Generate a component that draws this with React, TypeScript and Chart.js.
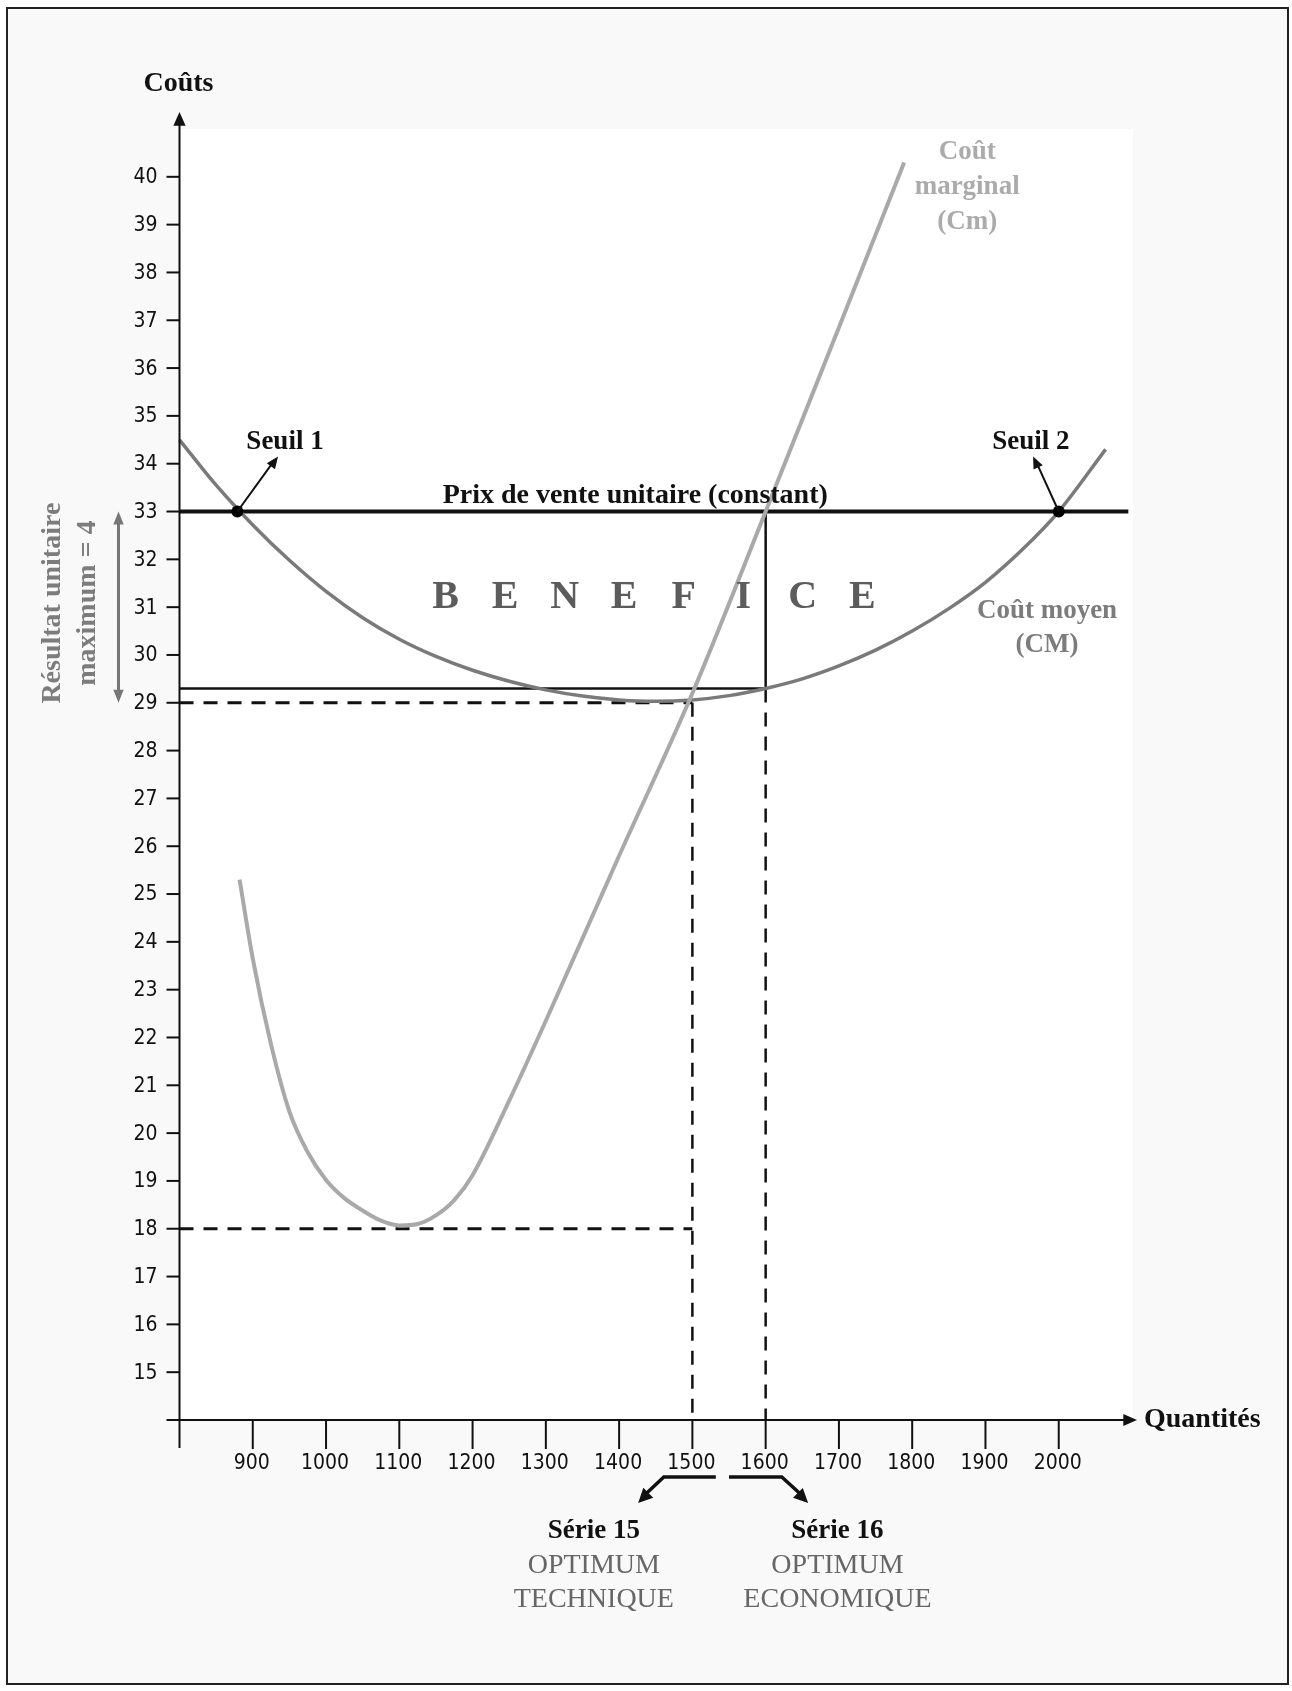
import { useEffect, useRef } from "react";
import { Chart, registerables } from "chart.js";

Chart.register(...registerables);

// ---------- data ----------
// Coût moyen (CM)
const cmQty = [800, 850, 900, 950, 1000, 1050, 1100, 1150, 1200, 1250, 1300, 1350, 1400, 1450, 1500, 1550, 1600, 1650, 1700, 1750, 1800, 1850, 1900, 1950, 2000, 2064];
const cmCost = [34.5, 33.55, 32.72, 31.98, 31.33, 30.78, 30.33, 29.97, 29.68, 29.45, 29.27, 29.14, 29.06, 29.03, 29.06, 29.15, 29.3, 29.5, 29.77, 30.1, 30.5, 30.97, 31.52, 32.2, 33.0, 34.3];
// Coût marginal (Cm)
const cmgQty = [882, 900, 925, 950, 975, 1000, 1025, 1050, 1075, 1100, 1125, 1150, 1175, 1200, 1250, 1300, 1400, 1500, 1600, 1700, 1789];
const cmgCost = [25.3, 23.65, 21.85, 20.45, 19.6, 19.02, 18.64, 18.38, 18.17, 18.07, 18.1, 18.28, 18.6, 19.12, 20.68, 22.35, 25.8, 29.2, 33.0, 36.85, 40.3];
// Prix de vente unitaire
const prixVente = 33;
const prixQty = [800, 2095];
// seuils de rentabilité
const seuilQty = [879, 2000];
// optimum technique / économique
const optTechnique = 1500;
const optEconomique = 1600;
const cmMinimum = 29;
const cmAtOptEco = 29.3;
const cmgMinimum = 18;
// axes
const xRange = [800, 2100];
const yRange = [14, 41];
const xTickValues = [900, 1000, 1100, 1200, 1300, 1400, 1500, 1600, 1700, 1800, 1900, 2000];
const yTickValues = [15, 16, 17, 18, 19, 20, 21, 22, 23, 24, 25, 26, 27, 28, 29, 30, 31, 32, 33, 34, 35, 36, 37, 38, 39, 40];
const beneficeLetters = ["B", "E", "N", "E", "F", "I", "C", "E"];

const W = 1292;
const H = 1691;
const SERIF = '"Liberation Serif", "Times New Roman", "DejaVu Serif", serif';
const NARROW = '"Liberation Sans Narrow", "DejaVu Sans Condensed", "Liberation Sans", sans-serif';

const pts = (xs: number[], ys: number[]) => xs.map((x, i) => ({ x, y: ys[i] }));

function arrowHead(ctx: CanvasRenderingContext2D, x1: number, y1: number, x2: number, y2: number, size: number, spread = 0.45) {
  const a = Math.atan2(y2 - y1, x2 - x1);
  ctx.beginPath();
  ctx.moveTo(x2, y2);
  ctx.lineTo(x2 - size * Math.cos(a - spread), y2 - size * Math.sin(a - spread));
  ctx.lineTo(x2 - size * Math.cos(a + spread), y2 - size * Math.sin(a + spread));
  ctx.closePath();
  ctx.fill();
}

const decorPlugin = {
  id: "decor",
  beforeDraw(chart: any) {
    const ctx: CanvasRenderingContext2D = chart.ctx;
    const { left, top, right, bottom } = chart.chartArea;
    ctx.save();
    ctx.fillStyle = "#ffffff";
    ctx.fillRect(0, 0, W, H);
    ctx.fillStyle = "#f9f9f9";
    ctx.fillRect(7, 8, 1281, 1676);
    ctx.strokeStyle = "#222";
    ctx.lineWidth = 2;
    ctx.strokeRect(7, 8, 1281, 1676);
    ctx.fillStyle = "#ffffff";
    ctx.fillRect(left, top, right - left + 1, bottom - top);
    ctx.restore();
  },
  afterDraw(chart: any) {
    const ctx: CanvasRenderingContext2D = chart.ctx;
    const xs = chart.scales.x;
    const ys = chart.scales.y;
    const { left, top, right, bottom } = chart.chartArea;
    const X = (v: number) => xs.getPixelForValue(v);
    const Y = (v: number) => ys.getPixelForValue(v);
    ctx.save();

    // ---- axes ----
    ctx.strokeStyle = "#111";
    ctx.fillStyle = "#111";
    ctx.lineWidth = 2;
    ctx.beginPath();
    ctx.moveTo(left, bottom + 28);
    ctx.lineTo(left, top - 4);
    ctx.moveTo(left - 13, bottom);
    ctx.lineTo(right - 6, bottom);
    ctx.stroke();
    arrowHead(ctx, left, top, left, top - 17, 15, 0.42);
    arrowHead(ctx, right - 10, bottom, right + 5, bottom, 15, 0.42);

    // y ticks
    ctx.lineWidth = 2;
    ctx.font = `21px ${NARROW}`;
    ctx.textAlign = "right";
    ctx.textBaseline = "middle";
    yTickValues.forEach((v) => {
      const y = Y(v);
      ctx.beginPath();
      ctx.moveTo(left - 13, y);
      ctx.lineTo(left, y);
      ctx.stroke();
      ctx.fillText(String(v), left - 22, y + 1);
    });
    // x ticks
    ctx.textAlign = "center";
    xTickValues.forEach((v) => {
      const x = X(v);
      ctx.beginPath();
      ctx.moveTo(x, bottom);
      ctx.lineTo(x, bottom + 29);
      ctx.stroke();
      ctx.fillText(String(v), x - 1, bottom + 44);
    });

    // axis titles
    ctx.font = `bold 28px ${SERIF}`;
    ctx.textAlign = "center";
    ctx.fillText("Coûts", left - 1, 84);
    ctx.textAlign = "left";
    ctx.fillText("Quantités", right + 12, bottom);

    // ---- annotations inside the plot ----
    ctx.textAlign = "center";
    ctx.fillText("Prix de vente unitaire (constant)", X(1422), Y(prixVente) - 16);

    // Seuils
    ctx.font = `bold 27px ${SERIF}`;
    ctx.fillText("Seuil 1", X(944), Y(34.46));
    ctx.fillText("Seuil 2", X(1962), Y(34.46));
    ctx.lineWidth = 2;
    ctx.beginPath();
    ctx.moveTo(X(seuilQty[0]), Y(prixVente));
    ctx.lineTo(X(930), Y(34.08));
    ctx.moveTo(X(seuilQty[1]), Y(prixVente));
    ctx.lineTo(X(1968), Y(34.08));
    ctx.stroke();
    arrowHead(ctx, X(seuilQty[0]), Y(prixVente), X(934.5), Y(34.15), 13, 0.4);
    arrowHead(ctx, X(seuilQty[1]), Y(prixVente), X(1965), Y(34.15), 13, 0.4);

    // BENEFICE
    ctx.fillStyle = "#5c5c5c";
    ctx.font = `bold 40px ${SERIF}`;
    const bStart = 1163;
    const bEnd = 1732;
    beneficeLetters.forEach((l, i) => {
      const xv = bStart + ((bEnd - bStart) * i) / (beneficeLetters.length - 1);
      ctx.fillText(l, X(xv), Y(31.24) + 2);
    });

    // curve labels
    ctx.font = `bold 27px ${SERIF}`;
    ctx.fillStyle = "#ababab";
    ctx.fillText("Coût", X(1875), 152);
    ctx.fillText("marginal", X(1875), 187);
    ctx.fillText("(Cm)", X(1875), 222);
    ctx.fillStyle = "#7c7c7c";
    ctx.fillText("Coût moyen", X(1984), Y(30.92));
    ctx.fillText("(CM)", X(1984), Y(30.2));

    // Résultat unitaire maximum (left, rotated)
    const yMid = (Y(prixVente) + Y(cmMinimum)) / 2 - 4;
    ctx.fillStyle = "#7c7c7c";
    ctx.font = `bold 28px ${SERIF}`;
    ctx.save();
    ctx.translate(left - 127, yMid);
    ctx.rotate(-Math.PI / 2);
    ctx.fillText("Résultat unitaire", 0, 0);
    ctx.restore();
    ctx.save();
    ctx.translate(left - 92, yMid);
    ctx.rotate(-Math.PI / 2);
    ctx.fillText("maximum = 4", 0, 0);
    ctx.restore();
    // double arrow
    ctx.strokeStyle = "#777";
    ctx.fillStyle = "#777";
    ctx.lineWidth = 3;
    const ax = left - 61;
    ctx.beginPath();
    ctx.moveTo(ax, Y(prixVente) + 10);
    ctx.lineTo(ax, Y(cmMinimum) - 10);
    ctx.stroke();
    arrowHead(ctx, ax, Y(prixVente) + 20, ax, Y(prixVente), 14, 0.38);
    arrowHead(ctx, ax, Y(cmMinimum) - 20, ax, Y(cmMinimum), 14, 0.38);

    // ---- bottom brackets and optimum labels ----
    ctx.strokeStyle = "#111";
    ctx.fillStyle = "#111";
    ctx.lineWidth = 3.5;
    const by = bottom + 57;
    const tipY = bottom + 83;
    ctx.beginPath();
    ctx.moveTo(X(1532), by);
    ctx.lineTo(X(1461), by);
    ctx.lineTo(X(1432), tipY - 6);
    ctx.moveTo(X(1550), by);
    ctx.lineTo(X(1622), by);
    ctx.lineTo(X(1652), tipY - 6);
    ctx.stroke();
    arrowHead(ctx, X(1461), by, X(1426), tipY, 16, 0.45);
    arrowHead(ctx, X(1622), by, X(1658), tipY, 16, 0.45);

    const c1 = X(1365.5);
    const c2 = X(1698);
    ctx.textAlign = "center";
    ctx.font = `bold 27px ${SERIF}`;
    ctx.fillStyle = "#111";
    ctx.fillText("Série 15", c1, bottom + 111);
    ctx.fillText("Série 16", c2, bottom + 111);
    ctx.font = `28px ${SERIF}`;
    ctx.fillStyle = "#666";
    ctx.fillText("OPTIMUM", c1, bottom + 146);
    ctx.fillText("TECHNIQUE", c1, bottom + 180);
    ctx.fillText("OPTIMUM", c2, bottom + 146);
    ctx.fillText("ECONOMIQUE", c2, bottom + 180);

    ctx.restore();
  },
};

const seg = (data: { x: number; y: number }[], color: string, width: number, dash: number[] = [], order = 5) => ({
  data,
  borderColor: color,
  borderWidth: width,
  borderDash: dash,
  showLine: true,
  pointRadius: 0,
  fill: false,
  tension: 0,
  clip: false as const,
  order,
});

export default function App() {
  const ref = useRef<HTMLCanvasElement | null>(null);
  useEffect(() => {
    if (!ref.current) return;
    const dash = [14, 10];
    const chart = new Chart(ref.current, {
      type: "scatter",
      data: {
        datasets: [
          // lines
          seg(prixQty.map((x) => ({ x, y: prixVente })), "#111", 4),
          seg([{ x: xRange[0], y: cmAtOptEco }, { x: optEconomique, y: cmAtOptEco }], "#111", 2.5),
          seg([{ x: optEconomique, y: prixVente }, { x: optEconomique, y: cmAtOptEco }], "#111", 2.5),
          seg([{ x: optEconomique, y: cmAtOptEco }, { x: optEconomique, y: yRange[0] }], "#111", 2.5, dash),
          seg([{ x: xRange[0], y: cmMinimum }, { x: optTechnique, y: cmMinimum }], "#111", 3, dash),
          seg([{ x: xRange[0], y: cmgMinimum }, { x: optTechnique, y: cmgMinimum }], "#111", 3, dash),
          seg([{ x: optTechnique, y: cmMinimum }, { x: optTechnique, y: yRange[0] }], "#111", 2.5, dash),
          // Coût moyen
          {
            data: pts(cmQty, cmCost),
            borderColor: "#7a7a7a",
            borderWidth: 3.5,
            showLine: true,
            pointRadius: 0,
            cubicInterpolationMode: "monotone" as const,
            clip: false as const,
            order: 2,
          },
          // Coût marginal
          {
            data: pts(cmgQty, cmgCost),
            borderColor: "#a9a9a9",
            borderWidth: 4,
            showLine: true,
            pointRadius: 0,
            cubicInterpolationMode: "monotone" as const,
            clip: false as const,
            order: 1,
          },
          // seuils
          {
            data: seuilQty.map((x) => ({ x, y: prixVente })),
            showLine: false,
            pointRadius: 6,
            pointBackgroundColor: "#000",
            pointBorderColor: "#000",
            pointBorderWidth: 0,
            clip: false as const,
            order: 0,
          },
        ],
      },
      options: {
        responsive: false,
        animation: false,
        devicePixelRatio: 1,
        layout: { padding: { left: 179.5, right: W - 1132, top: 129, bottom: H - 1420 } },
        plugins: { legend: { display: false }, tooltip: { enabled: false } },
        events: [],
        scales: {
          x: { type: "linear", min: xRange[0], max: xRange[1], display: false },
          y: { type: "linear", min: yRange[0], max: yRange[1], display: false },
        },
      },
      plugins: [decorPlugin],
    });
    return () => chart.destroy();
  }, []);
  return (
    <div style={{ position: "absolute", left: 0, top: 0, width: W, height: H }}>
      <canvas ref={ref} width={W} height={H} style={{ display: "block", width: W, height: H }} />
    </div>
  );
}
